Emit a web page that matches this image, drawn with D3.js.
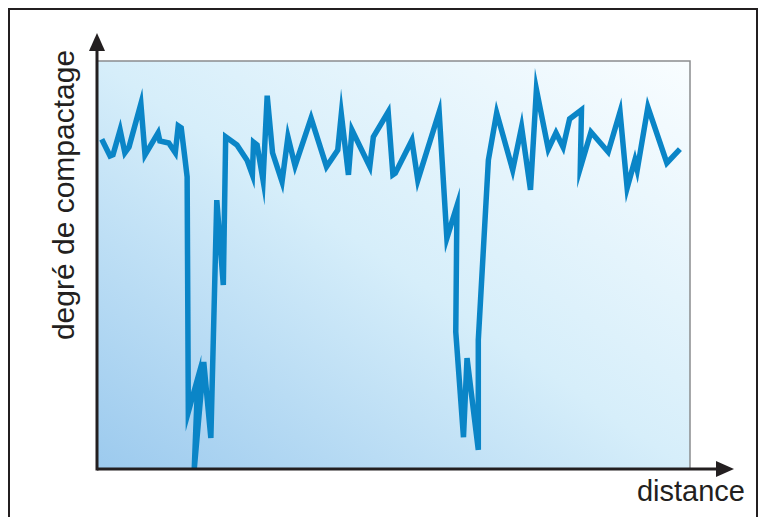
<!DOCTYPE html>
<html>
<head>
<meta charset="utf-8">
<script src="https://cdn.jsdelivr.net/npm/d3@7"></script>
<style>
  body { margin: 0; background: #fff; }
  svg { display: block; }
  text { font-family: "Liberation Sans", Arial, sans-serif; fill: #231f20; }
</style>
</head>
<body>
<svg id="chart" width="763" height="517"></svg>
<script>
// distance (0-100) along the profile
const distance = [0.8, 2.2, 2.7, 3.9, 4.7, 5.4, 7.4, 8.1, 10.3, 10.6, 12.1, 13.2, 13.7, 14.2, 14.8, 15.2,
    15.4, 17.0, 16.4, 18.0, 19.2, 20.2, 21.3, 21.7, 23.6, 25.3, 26.2, 26.4, 27.0, 28.0, 28.7, 29.6,
    31.2, 32.2, 33.4, 36.1, 38.7, 40.6, 41.2, 42.4, 43.0, 46.0, 46.6, 49.1, 49.9, 50.3, 53.1, 54.1,
    57.7, 59.0, 60.7, 60.5, 61.8, 62.4, 64.3, 64.3, 66.0, 67.4, 70.1, 71.6, 73.1, 74.1, 76.1, 77.4,
    78.6, 79.7, 81.7, 81.5, 83.3, 86.2, 88.2, 89.4, 90.7, 91.1, 92.9, 96.1, 98.3]

// degré de compactage (0-100)
const compactage = [80.8, 76.7, 77.0, 83.1, 77.5, 78.9, 89.5, 77.0, 82.4, 80.4, 79.9, 77.5, 84.1, 83.6, 76.5, 71.6,
    14.0, 22.3, 0.0, 26.2, 7.6, 65.9, 45.1, 81.4, 79.4, 75.7, 72.1, 80.1, 79.4, 70.8, 91.5, 77.5,
    70.4, 81.4, 74.3, 86.0, 74.1, 78.2, 87.0, 72.1, 83.1, 74.1, 81.4, 87.5, 72.1, 72.5, 80.6, 70.8,
    87.5, 56.6, 64.5, 33.6, 7.8, 27.2, 4.7, 31.6, 75.7, 87.3, 73.3, 83.8, 68.4, 93.0, 78.4, 82.4,
    78.9, 85.8, 88.0, 73.8, 82.6, 77.7, 87.5, 68.9, 75.7, 73.3, 88.7, 75.0, 78.4]

const xLabel = "distance"
const yLabel = "degré de compactage"

const svg = d3.select("#chart")

// outer frame (open at the bottom)
svg.append("rect")
    .attr("x", 9).attr("y", 9)
    .attr("width", 748).attr("height", 540)
    .attr("fill", "none")
    .attr("stroke", "#231f20")
    .attr("stroke-width", 2)

const x = d3.scaleLinear().domain([0, 100]).range([97, 690])
const y = d3.scaleLinear().domain([0, 100]).range([469, 61])

// background gradient
const defs = svg.append("defs")
const grad = defs.append("linearGradient")
    .attr("id", "bg")
    .attr("x1", "0%").attr("y1", "100%")
    .attr("x2", "100%").attr("y2", "0%")
grad.append("stop").attr("offset", "0%").attr("stop-color", "#9ccaee")
grad.append("stop").attr("offset", "50%").attr("stop-color", "#d6eefa")
grad.append("stop").attr("offset", "100%").attr("stop-color", "#f9fdff")

svg.append("rect")
    .attr("x", x(0)).attr("y", y(100))
    .attr("width", x(100) - x(0))
    .attr("height", y(0) - y(100))
    .attr("fill", "url(#bg)")
    .attr("stroke", "#8a8c8e")
    .attr("stroke-width", 1.5)

// the profile line
const pts = distance.map((d, i) => [d, compactage[i]])
const line = d3.line()
    .x(d => x(d[0]))
    .y(d => y(d[1]))

svg.append("path")
    .datum(pts)
    .attr("d", line)
    .attr("fill", "none")
    .attr("stroke", "#0a85c7")
    .attr("stroke-width", 5.5)
    .attr("stroke-linejoin", "miter")
    .attr("stroke-miterlimit", 10)

// axes with arrows
const axisG = svg.append("g")
const x0 = x(0), y0 = y(0)
axisG.append("line")
    .attr("x1", x0).attr("y1", y0)
    .attr("x2", 718).attr("y2", y0)
    .attr("stroke", "#231f20").attr("stroke-width", 3)
axisG.append("path")
    .attr("d", `M716,${y0 - 8}L734,${y0}L716,${y0 + 8}Z`)
    .attr("fill", "#231f20")
axisG.append("line")
    .attr("x1", x0).attr("y1", y0 + 1.5)
    .attr("x2", x0).attr("y2", 48)
    .attr("stroke", "#231f20").attr("stroke-width", 3)
axisG.append("path")
    .attr("d", `M${x0 - 8},51L${x0},33L${x0 + 8},51Z`)
    .attr("fill", "#231f20")

svg.append("text")
    .attr("x", 745).attr("y", 501)
    .attr("text-anchor", "end")
    .attr("font-size", 29)
    .text(xLabel)

svg.append("text")
    .attr("transform", "translate(74,195) rotate(-90)")
    .attr("text-anchor", "middle")
    .attr("font-size", 30)
    .text(yLabel)
</script>
</body>
</html>
